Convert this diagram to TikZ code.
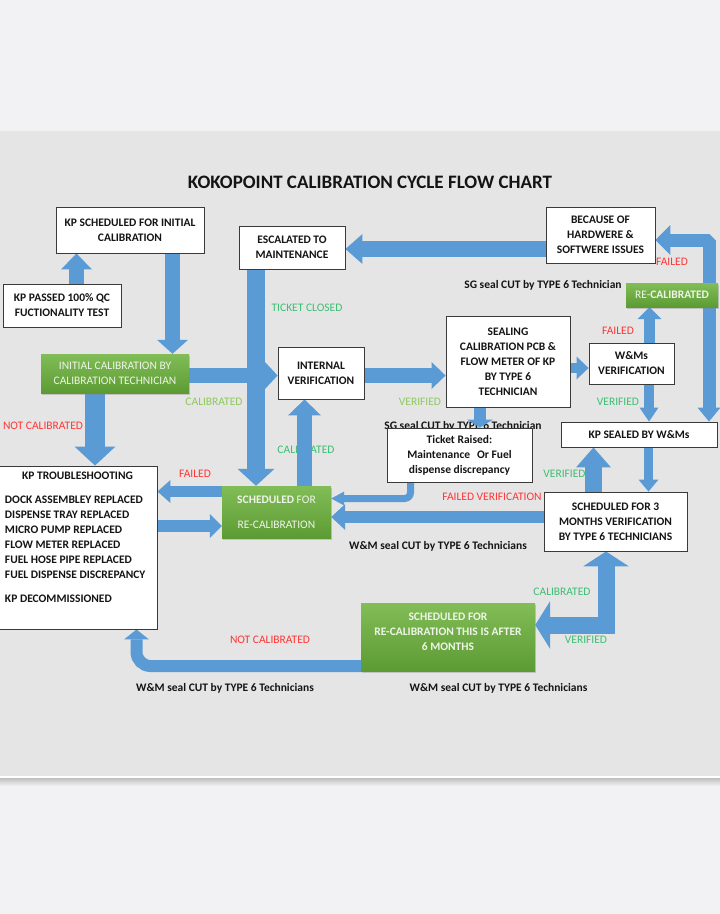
\documentclass[tikz,border=0pt]{standalone}
\usepackage{fontspec}
\setmainfont{Carlito}
\usetikzlibrary{arrows.meta,shadows}
\definecolor{pagebg}{HTML}{F2F2F4}
\definecolor{panel}{HTML}{E5E5E5}
\definecolor{arrowblue}{HTML}{5B9BD5}
\definecolor{gtop}{HTML}{82BD57}
\definecolor{gbot}{HTML}{5C9B33}
\definecolor{gtext}{HTML}{EEF5E8}
\definecolor{lblred}{HTML}{FF3535}
\definecolor{lblgreen}{HTML}{3DBE73}
\definecolor{lbllime}{HTML}{8DC95C}
\definecolor{boxedge}{HTML}{3A3A3A}
\definecolor{ink}{HTML}{141414}
\pgfdeclarelayer{back}
\pgfdeclarelayer{mid}
\pgfsetlayers{back,mid,main}
\tikzset{
  box/.style={draw=boxedge, line width=0.9pt, fill=white, align=center, inner sep=0pt, text=ink,
    font=\fontsize{11.5}{15}\selectfont\bfseries,
    drop shadow={opacity=0.3, shadow xshift=1pt, shadow yshift=-1pt}},
  gbox/.style={draw=none, top color=gtop, bottom color=gbot, align=center, inner sep=0pt, text=gtext,
    font=\fontsize{11.5}{15}\selectfont,
    drop shadow={opacity=0.35, shadow xshift=1pt, shadow yshift=-1.5pt}},
  lab/.style={font=\fontsize{11.5}{13}\selectfont, inner sep=0pt},
  labR/.style={lab, text=lblred},
  labG/.style={lab, text=lblgreen},
  labL/.style={lab, text=lbllime},
  note/.style={font=\fontsize{11.5}{13}\selectfont\bfseries, text=ink, inner sep=0pt},
  barrow/.style n args={3}{draw=arrowblue, line width=#1, line cap=butt,
    -{Triangle[width=#2, length=#3, line width=0pt]}},
}
\begin{document}
\begin{tikzpicture}[x=1pt,y=-1pt]
\useasboundingbox (0,0) rectangle (720,914);
% ---------- background ----------
\begin{pgfonlayer}{back}
\fill[pagebg] (0,0) rectangle (720,914);
\fill[panel] (0,131) rectangle (720,776);
\fill[white] (0,776) rectangle (720,778);
\shade[top color=black!25, bottom color=pagebg] (0,778) rectangle (720,786);
\node[note] (sg2) at (463,426) {SG seal CUT by TYPE 6 Technician};
\node[labG] (cal3) at (306,450) {CALIBRATED};
\end{pgfonlayer}

% ---------- title ----------
\node[note, font=\fontsize{19}{22}\selectfont\bfseries] (title) at (370,182) {KOKOPOINT CALIBRATION CYCLE FLOW CHART};

% ---------- boxes ----------
\node[box, minimum width=148pt, minimum height=46pt] (sched) at (130,230) {KP SCHEDULED FOR INITIAL\\CALIBRATION};
\node[box, minimum width=118pt, minimum height=43pt] (passed) at (62,305.5) {KP PASSED 100\% QC\\FUCTIONALITY TEST};
\node[gbox, minimum width=148pt, minimum height=39pt] (init) at (115,373.5) {INITIAL CALIBRATION BY\\CALIBRATION TECHNICIAN};
\node[box, minimum width=106pt, minimum height=43pt] (escal) at (292,247.5) {ESCALATED TO\\MAINTENANCE};
\node[box, minimum width=86pt, minimum height=52pt] (intver) at (321,373) {INTERNAL\\VERIFICATION};
\node[box, minimum width=124pt, minimum height=91pt] (seal) at (508,361.5) {SEALING\\CALIBRATION PCB \&\\FLOW METER OF KP\\BY TYPE 6\\TECHNICIAN};
\node[box, minimum width=85pt, minimum height=41pt] (wm) at (631.5,363.5) {W\&Ms\\VERIFICATION};
\node[gbox, minimum width=92pt, minimum height=24pt] (recal) at (672,295) {RE-\textbf{CALIBRATED}};
\node[box, minimum width=109pt, minimum height=56pt] (because) at (600.5,235) {BECAUSE OF\\HARDWERE \&\\SOFTWERE ISSUES};
\node[box, minimum width=156pt, minimum height=25pt] (sealed) at (639,434.5) {KP SEALED BY W\&Ms};
\node[box, minimum width=143pt, minimum height=59pt] (three) at (615.5,521.5) {SCHEDULED FOR 3\\MONTHS VERIFICATION\\BY TYPE 6 TECHNICIANS};
\node[box, minimum width=145pt, minimum height=54pt] (ticket) at (459.5,455) {Ticket Raised:\\Maintenance\hspace{7pt}Or Fuel\\dispense discrepancy};
\node[gbox, minimum width=109pt, minimum height=52pt] (resched) at (276.5,512) {\textbf{SCHEDULED} FOR\\[10pt]RE-CALIBRATION};
\node[box, minimum width=159pt, minimum height=163pt, align=left] (trouble) at (77.5,547.5)
  {\makebox[145pt]{KP TROUBLESHOOTING}\\[9pt]
   DOCK ASSEMBLEY REPLACED\\
   DISPENSE TRAY REPLACED\\
   MICRO PUMP REPLACED\\
   FLOW METER REPLACED\\
   FUEL HOSE PIPE REPLACED\\
   FUEL DISPENSE DISCREPANCY\\[9pt]
   KP DECOMMISSIONED\\[5pt]\mbox{}};
\node[gbox, minimum width=174pt, minimum height=68pt, font=\fontsize{11.5}{15}\selectfont\bfseries] (six) at (448,637) {SCHEDULED FOR\\RE-CALIBRATION THIS IS AFTER\\6 MONTHS\\[-4pt]\mbox{}};

% ---------- labels ----------
\node[note] (sg1) at (543,285) {SG seal CUT by TYPE 6 Technician};
\node[labR] (f1) at (672,262) {FAILED};
\node[labR] (f2) at (618,331) {FAILED};
\node[labG] (v1) at (618,402) {VERIFIED};
\node[labG] (tc) at (307,308) {TICKET CLOSED};
\node[labL] (cal1) at (214,402) {CALIBRATED};
\node[labL] (v2) at (420,402) {VERIFIED};
\node[labR] (nc1) at (43,426) {NOT CALIBRATED};
\node[labR] (f3) at (195,474) {FAILED};
\node[labG] (v3) at (564.5,474) {VERIFIED};
\node[labR] (fv) at (492,497) {FAILED VERIFICATION};
\node[note] (wm1) at (438,546) {W\&M seal CUT by TYPE 6 Technicians};
\node[labG] (cal4) at (562,592) {CALIBRATED};
\node[labG] (v4) at (586,640) {VERIFIED};
\node[labR] (nc2) at (270,640) {NOT CALIBRATED};
\node[note] (wm2) at (225,688) {W\&M seal CUT by TYPE 6 Technicians};
\node[note] (wm3) at (498.5,688) {W\&M seal CUT by TYPE 6 Technicians};

% ---------- connectors ----------
\coordinate (a1) at ([xshift=14.5pt]passed.north);
\coordinate (a2) at ([xshift=42.5pt]sched.south);
\coordinate (a3) at ([yshift=-2pt]init.east);
\coordinate (a4) at ([xshift=-36pt]escal.south);
\coordinate (a5) at ([yshift=-2.5pt]intver.east);
\coordinate (a6) at ([yshift=-6.5pt]seal.east);
\coordinate (a7) at ([xshift=18pt]wm.north);
\coordinate (a8) at ([xshift=37pt]recal.north);
\coordinate (a8e) at ([yshift=-5pt]because.east);
\coordinate (a9) at ([xshift=37pt]recal.south);
\coordinate (a10) at ([xshift=17.5pt]wm.south);
\coordinate (a11) at ([xshift=9.5pt]sealed.south);
\coordinate (a12) at ([xshift=-22pt]three.north);
\coordinate (a13) at ([yshift=-14pt]because.west);
\coordinate (a14) at ([xshift=-28pt]seal.south);
\coordinate (a15) at ([xshift=-49pt]ticket.south);
\coordinate (a15e) at ([yshift=13.5pt]resched.east);
\coordinate (a16) at ([yshift=4.5pt]three.west);
\coordinate (a17) at ([xshift=28pt]resched.north);
\coordinate (a18) at ([yshift=20.5pt]resched.west);
\coordinate (a19) at ([yshift=21.5pt]trouble.east);
\coordinate (a20) at ([xshift=-20pt]init.south);
\coordinate (a21) at ([xshift=-9.5pt]three.south);
\coordinate (a21e) at ([yshift=12pt]six.east);
\coordinate (a22) at ([yshift=-29pt]six.west);
\coordinate (a22e) at ([xshift=59pt]trouble.south);

\begin{pgfonlayer}{mid}
\draw[barrow={15pt}{31pt}{16pt}] (a1) -- (a1 |- sched.south);
\draw[barrow={15pt}{31pt}{14pt}] (a2) -- (a2 |- init.north);
\draw[barrow={15pt}{28pt}{13pt}] (a3) -- (a3 -| intver.west);
\draw[barrow={18pt}{37pt}{17pt}] (a4) -- (a4 |- resched.north);
\draw[barrow={15pt}{27pt}{14pt}] (a5) -- (a5 -| seal.west);
\draw[barrow={10pt}{23pt}{12pt}] (a6) -- (a6 -| wm.west);
\draw[barrow={11pt}{24pt}{12pt}] (a7) -- (a7 |- recal.south);
\draw[barrow={13pt}{30pt}{15pt}, line join=bevel] (a8) |- (a8e);
\draw[barrow={13pt}{23pt}{14pt}] (a9) -- (a9 |- sealed.north);
\draw[barrow={10pt}{19pt}{14pt}] (a10) -- (a10 |- sealed.north);
\draw[barrow={9pt}{20pt}{12pt}] (a11) -- (a11 |- three.north);
\draw[barrow={17pt}{35pt}{20pt}] (a12) -- (a12 |- sealed.south);
\draw[barrow={16pt}{30pt}{17pt}] (a13) -- (a13 -| escal.east);
\draw[barrow={12pt}{26pt}{8pt}] (a14) -- (a14 |- ticket.north);
\draw[barrow={7pt}{14pt}{13pt}, rounded corners=6pt] (a15) |- (a15e);
\draw[barrow={12pt}{26pt}{14pt}] (a16) -- (a16 -| resched.east);
\draw[barrow={15pt}{33pt}{16pt}] (a17) -- (a17 |- intver.south);
\draw[barrow={11pt}{23pt}{13pt}] (a18) -- (a18 -| trouble.east);
\draw[barrow={12pt}{24pt}{12pt}] (a19) -- (a19 -| resched.west);
\draw[barrow={20pt}{41pt}{19pt}] (a20) -- (a20 |- trouble.north);
\draw[draw=arrowblue, line width=17pt, line cap=butt, line join=miter,
  {Triangle[width=46pt, length=15pt, line width=0pt]}-{Triangle[width=48pt, length=15pt, line width=0pt]}]
  (a21) |- (a21e);
\draw[barrow={12pt}{25pt}{10pt}, rounded corners=14pt] (a22) -| (a22e);
\end{pgfonlayer}
\end{tikzpicture}
\end{document}
